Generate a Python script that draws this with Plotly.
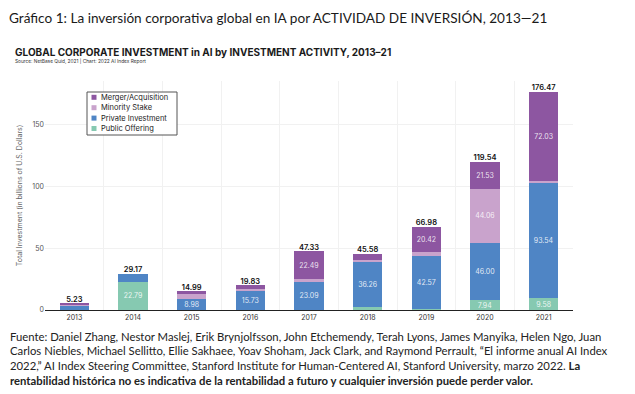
import plotly.graph_objects as go

years = ["2013", "2014", "2015", "2016", "2017", "2018", "2019", "2020", "2021"]
public_offering = [0.10, 22.79, 0.00, 0.00, 0.25, 2.60, 0.90, 7.94, 9.58]
private_investment = [3.40, 6.38, 8.98, 15.73, 23.09, 36.26, 42.57, 46.00, 93.54]
minority_stake = [1.20, 0.00, 4.00, 1.60, 1.50, 1.50, 3.09, 44.06, 1.32]
merger_acquisition = [0.53, 0.00, 2.01, 2.50, 22.49, 5.22, 20.42, 21.53, 72.03]
totals = [5.23, 29.17, 14.99, 19.83, 47.33, 45.58, 66.98, 119.54, 176.47]

series = [
    ("Public Offering", public_offering, "#86C9B1"),
    ("Private Investment", private_investment, "#4F85C5"),
    ("Minority Stake", minority_stake, "#C9A3CC"),
    ("Merger/Acquisition", merger_acquisition, "#8D56A1"),
]

# page has an 8px body margin; work in reference-pixel coordinates and shift
OFF = 8
W, H = 635 - OFF, 394 - OFF
plot_l, plot_r, plot_t, plot_b = 45 - OFF, 573 - OFF, 81 - OFF, 310 - OFF
L, R, T, B = plot_l, W - plot_r, plot_t, H - plot_b
pw, ph = plot_r - plot_l, plot_b - plot_t


def px_x(x):
    return (x - OFF - plot_l) / pw


def px_y(y):
    return (plot_b - (y - OFF)) / ph


fig = go.Figure()
for name, vals, col in series:
    fig.add_trace(go.Bar(
        name=name, x=years, y=vals, marker=dict(color=col, line=dict(width=0)),
        width=0.5, showlegend=False,
        text=[f"{v:.2f}" if v >= 7 else "" for v in vals],
        textposition="inside", insidetextanchor="middle", textangle=0,
        constraintext="none",
        textfont=dict(family="Inter, Roboto, sans-serif", size=7, color="rgba(255,255,255,0.85)"),
        hoverinfo="skip",
    ))

fig.add_trace(go.Scatter(
    x=years, y=totals, mode="text", text=[f"{v:.2f}" for v in totals],
    textposition="top center", showlegend=False,
    textfont=dict(family="Inter, Roboto, sans-serif", size=7.5, color="#111", weight=600),
    hoverinfo="skip",
))

fig.update_layout(
    width=W, height=H, barmode="stack",
    margin=dict(l=L, r=R, t=T, b=B, autoexpand=False),
    paper_bgcolor="white", plot_bgcolor="white",
    font=dict(family="Inter, Roboto, sans-serif", color="#444"),
    showlegend=False,
)
fig.update_xaxes(
    type="category", tickson="boundaries", showgrid=True, gridcolor="#F1F1F1",
    gridwidth=1, showline=True, linecolor="#222", linewidth=1.2, ticks="",
    tickfont=dict(size=7, color="#333"), range=[-0.5, 8.5], automargin=False,
)
fig.update_yaxes(
    range=[0, 185], tickvals=[0, 50, 100, 150], showgrid=True, gridcolor="#F1F1F1",
    zeroline=False, showline=False, ticks="", tickfont=dict(size=7, color="#555"),
    automargin=False,
    title=dict(text="Total Investment (in billions of U.S. Dollars)",
               font=dict(size=7, color="#666"), standoff=8),
)

ann = []
shapes = []
ann.append(dict(text="Gráfico 1: La inversión corporativa global en IA por ACTIVIDAD DE INVERSIÓN, 2013—21",
                x=px_x(7), y=px_y(18), xref="paper", yref="paper", xanchor="left", yanchor="middle",
                showarrow=False, font=dict(family="Lato, sans-serif", size=13.6, color="#1a1a1a")))
ann.append(dict(text="<b>GLOBAL CORPORATE INVESTMENT in AI by INVESTMENT ACTIVITY, 2013–21</b>",
                x=px_x(13), y=px_y(52), xref="paper", yref="paper", xanchor="left", yanchor="middle",
                showarrow=False, font=dict(family="Inter, Roboto, sans-serif", size=10, color="#1a1a1a")))
ann.append(dict(text="Source: NetBase Quid, 2021 | Chart: 2022 AI Index Report",
                x=px_x(13), y=px_y(60.5), xref="paper", yref="paper", xanchor="left", yanchor="middle",
                showarrow=False, font=dict(family="Inter, Roboto, sans-serif", size=4.8, color="#333")))

# manual compact legend
shapes.append(dict(type="rect", xref="paper", yref="paper",
                   x0=px_x(87), x1=px_x(177), y0=px_y(92), y1=px_y(135),
                   line=dict(color="#555", width=1), fillcolor="white", layer="above"))
legend_items = list(reversed(series))
for i, (name, _, col) in enumerate(legend_items):
    yc = 97.3 + 10.4 * i
    shapes.append(dict(type="rect", xref="paper", yref="paper",
                       x0=px_x(91.5), x1=px_x(96.5), y0=px_y(yc - 2.5), y1=px_y(yc + 2.5),
                       line=dict(width=0), fillcolor=col, layer="above"))
    ann.append(dict(text=name, x=px_x(99), y=px_y(yc), xref="paper", yref="paper",
                    xanchor="left", yanchor="middle", showarrow=False,
                    font=dict(family="Inter, Roboto, sans-serif", size=7.5, color="#222")))

footer = [
    "Fuente: Daniel Zhang, Nestor Maslej, Erik Brynjolfsson, John Etchemendy, Terah Lyons, James Manyika, Helen Ngo, Juan",
    "Carlos Niebles, Michael Sellitto, Ellie Sakhaee, Yoav Shoham, Jack Clark, and Raymond Perrault, “El informe anual AI Index",
    "2022,” AI Index Steering Committee, Stanford Institute for Human-Centered AI, Stanford University, marzo 2022. <b>La</b>",
    "<b>rentabilidad histórica no es indicativa de la rentabilidad a futuro y cualquier inversión puede perder valor.</b>",
]
for i, line in enumerate(footer):
    ann.append(dict(text=line, x=px_x(8), y=px_y(336 + 14.8 * i), xref="paper", yref="paper",
                    xanchor="left", yanchor="middle", showarrow=False,
                    font=dict(family="Lato, sans-serif", size=11.3, color="#222")))
fig.update_layout(annotations=ann, shapes=shapes)

fig.write_html("out.html")
